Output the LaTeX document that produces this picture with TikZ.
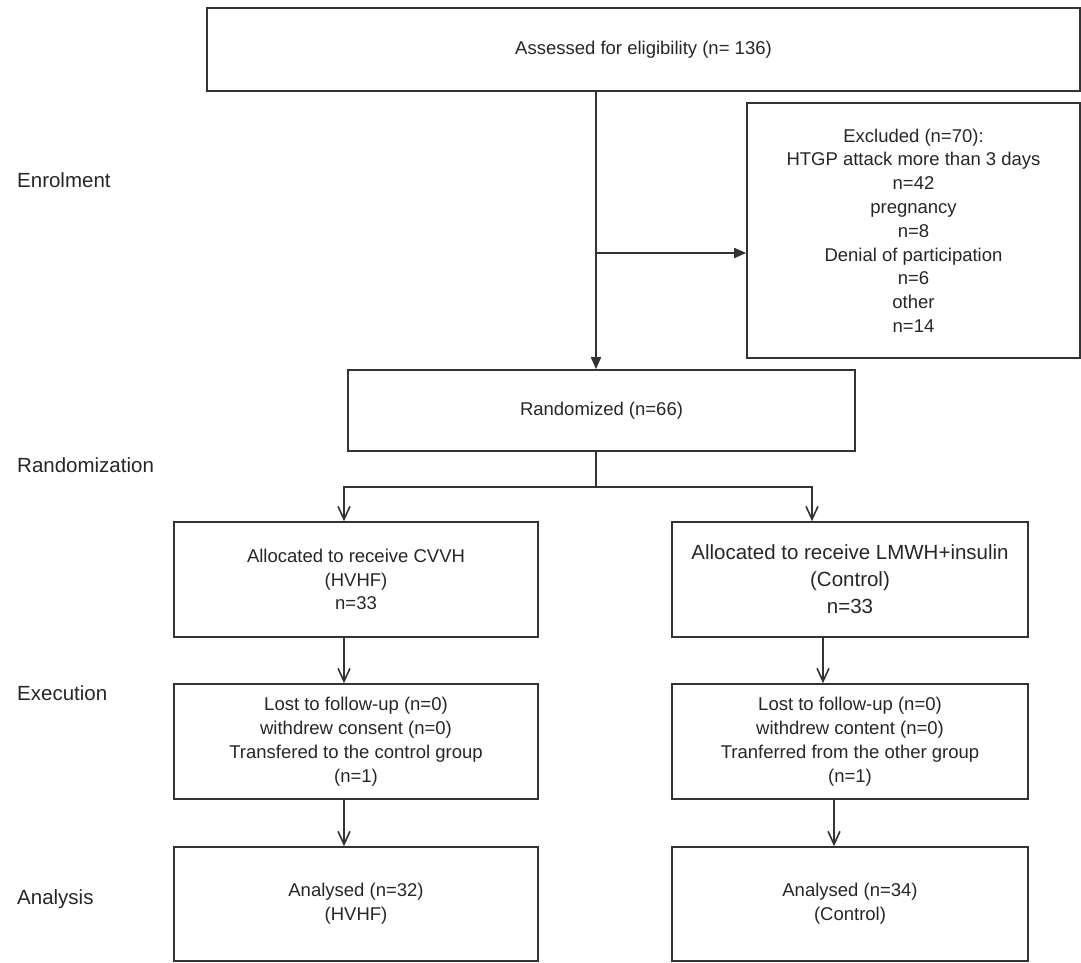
\documentclass[tikz,border=0pt]{standalone}
\usepackage{fontspec}
\setmainfont{Liberation Sans}
\usetikzlibrary{arrows.meta}
\begin{document}
\begin{tikzpicture}[x=1pt,y=-1pt,
    box/.style={draw=black!80,line width=1.6pt,inner sep=0pt,align=center,text=black!85,
        font=\fontsize{18.5}{23.8}\selectfont},
    bigbox/.style={box,font=\fontsize{20.5}{27}\selectfont},
    stage/.style={anchor=west,inner sep=0pt,text=black!85,font=\fontsize{20.5}{24}\selectfont},
    link/.style={draw=black!80,line width=1.6pt},
    fillarrow/.style={link,-{Triangle[length=12pt,width=10pt]}},
    openarrow/.style={link,-{Straight Barb[length=13pt,width=12pt,line width=1.6pt]}}]
    \useasboundingbox (0,0) rectangle (1081,962);
    \node[stage] (enrol) at (17,180) {Enrolment};
    \node[stage] (randlab) at (17,465) {Randomization};
    \node[stage] (execlab) at (17,693) {Execution};
    \node[stage] (analab) at (17,899) {Analysis};
    \node[box,minimum width=873pt,minimum height=83pt] (assessed) at (643.5,49.5) {Assessed for eligibility (n= 136)};
    \node[box,minimum width=333pt,minimum height=255pt] (excluded) at (913.5,230.5)
        {Excluded (n=70):\\HTGP attack more than 3 days\\n=42\\pregnancy\\n=8\\Denial of participation\\n=6\\other\\n=14};
    \node[box,minimum width=507pt,minimum height=81pt] (rand) at (601.5,410.5) {Randomized (n=66)};
    \node[box,minimum width=364pt,minimum height=115pt] (hvhfalloc) at (356,579.5) {Allocated to receive CVVH\\(HVHF)\\n=33};
    \node[bigbox,minimum width=356pt,minimum height=115pt] (ctrlalloc) at (850,579.5) {Allocated to receive LMWH+insulin\\(Control)\\n=33};
    \node[box,minimum width=364pt,minimum height=115pt] (hvhfexec) at (356,741.5)
        {Lost to follow-up (n=0)\\withdrew consent (n=0)\\Transfered to the control group\\(n=1)};
    \node[box,minimum width=356pt,minimum height=115pt] (ctrlexec) at (850,741.5)
        {Lost to follow-up (n=0)\\withdrew content (n=0)\\Tranferred from the other group\\(n=1)};
    \node[box,minimum width=364pt,minimum height=114pt] (hvhfana) at (356,904) {Analysed (n=32)\\(HVHF)};
    \node[box,minimum width=356pt,minimum height=114pt] (ctrlana) at (850,904) {Analysed (n=34)\\(Control)};
    \coordinate (split) at (596,253);
    \coordinate (fork) at (596,487);
    \draw[fillarrow] (assessed.south -| split) -- (rand.north -| split);
    \draw[fillarrow] (split) -- (split -| excluded.west);
    \draw[link] (rand.south -| fork) -- (fork);
    \draw[openarrow] (fork) -| ([xshift=-12pt]hvhfalloc.north);
    \draw[openarrow] (fork) -| ([xshift=-38pt]ctrlalloc.north);
    \draw[openarrow] ([xshift=-12pt]hvhfalloc.south) -- ([xshift=-12pt]hvhfexec.north);
    \draw[openarrow] ([xshift=-27pt]ctrlalloc.south) -- ([xshift=-27pt]ctrlexec.north);
    \draw[openarrow] ([xshift=-12pt]hvhfexec.south) -- ([xshift=-12pt]hvhfana.north);
    \draw[openarrow] ([xshift=-16pt]ctrlexec.south) -- ([xshift=-16pt]ctrlana.north);
\end{tikzpicture}
\end{document}
